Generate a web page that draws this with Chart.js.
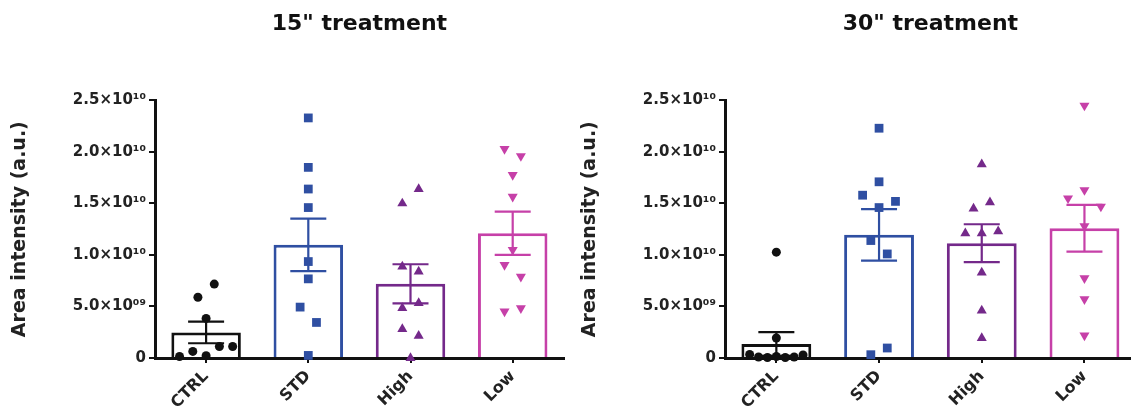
<!DOCTYPE html>
<html>
<head>
<meta charset="utf-8">
<script src="https://cdn.jsdelivr.net/npm/chart.js@4.4.1/dist/chart.umd.min.js"></script>
<style>
html, body { margin: 0; padding: 0; background: #fff; overflow: hidden; }
#wrap { position: relative; width: 1131px; height: 416px; overflow: hidden; background: #fff; }
.box { position: absolute; top: 0; height: 416px; }
#left { left: 0; width: 570px; }
#right { left: 570px; width: 572px; }
</style>
</head>
<body>
<div id="wrap">
    <div class="box" id="left"><canvas id="chart15"></canvas></div>
    <div class="box" id="right"><canvas id="chart30"></canvas></div>
</div>
<script>
// values are in units of 1e9 (a.u.)
const UNIT = 1e9;
const groups = ['CTRL', 'STD', 'High', 'Low'];

const mean15 = [2.48, 10.98, 7.2, 12.1];
const sem15 = [1.05, 2.55, 1.9, 2.1];
const ctrl15 = [0.15, 0.64, 0.22, 1.12, 1.12, 3.84, 5.9, 7.17];
const std15 = [0.25, 4.94, 3.45, 7.68, 9.36, 14.6, 16.4, 18.5, 23.3];
const high15 = [0, 2.81, 2.16, 4.84, 5.33, 8.88, 8.39, 15.0, 16.4];
const low15 = [4.52, 4.84, 9.04, 7.9, 10.5, 15.66, 17.76, 20.3, 19.6];

const mean30 = [1.36, 11.95, 11.14, 12.6];
const sem30 = [1.16, 2.5, 1.84, 2.27];
const ctrl30 = [0.35, 0.1, 0.05, 0.15, 0.05, 0.1, 0.3, 1.94, 10.27];
const std30 = [0.32, 0.97, 11.4, 10.1, 15.8, 14.6, 15.2, 17.1, 22.3];
const high30 = [1.94, 4.6, 8.3, 12.1, 12.1, 12.3, 14.5, 15.1, 18.8];
const low30 = [2.2, 5.7, 7.75, 12.8, 15.5, 16.3, 14.7, 24.5];

const COLORS = ['#111111', '#2F4FA2', '#74298A', '#C640A8'];
const POINT_STYLES = ['circle', 'rect', 'triangle', 'triangle'];
const POINT_ROTATION = [0, 0, 0, 180];
const POINT_RADIUS = [4.5, 6.2, 5.8, 5.8];
const FONT = 'DejaVu Sans';

// simple GraphPad-like spreading: close values share a row and are spread sideways
function spread(values) {
    const idx = values.map((v, i) => i).sort((a, b) => values[a] - values[b]);
    const offsets = new Array(values.length).fill(0);
    let k = 0;
    while (k < idx.length) {
        const start = values[idx[k]];
        let bin = [];
        while (k < idx.length && values[idx[k]] - start < 1.65) bin.push(idx[k++]);
        bin.sort((a, b) => a - b);
        const n = bin.length;
        const step = n <= 3 ? 0.16 : Math.min(0.16, 0.52 / (n - 1));
        bin.forEach((p, j) => offsets[p] = (j - (n - 1) / 2) * step);
    }
    return offsets;
}

function tickLabel(value) {
    if (value === 0) return '0';
    if (value >= 1e10) return (value / 1e10).toFixed(1) + '×10¹⁰';
    return (value / 1e9).toFixed(1) + '×10⁰⁹';
}

function makeChart(id, title, means, sems, points) {
    const datasets = [{
        type: 'bar',
        data: means.map(m => m * UNIT),
        backgroundColor: '#ffffff',
        borderColor: COLORS,
        borderWidth: 3,
        grouped: false,
        barPercentage: 0.68,
        categoryPercentage: 1,
        order: 2
    }];
    points.forEach((vals, i) => {
        const off = spread(vals);
        datasets.push({
            type: 'scatter',
            xAxisID: 'x2',
            data: vals.map((v, k) => ({x: i + off[k], y: v * UNIT})),
            pointStyle: POINT_STYLES[i],
            rotation: POINT_ROTATION[i],
            radius: POINT_RADIUS[i],
            backgroundColor: COLORS[i],
            borderColor: COLORS[i],
            borderWidth: 0,
            clip: false,
            order: 1
        });
    });

    const errorBars = {
        id: 'errorBars',
        afterDatasetsDraw(chart) {
            const {ctx, scales: {x, y}} = chart;
            ctx.save();
            ctx.lineWidth = 2.2;
            means.forEach((m, i) => {
                const px = x.getPixelForValue(i);
                const top = y.getPixelForValue((m + sems[i]) * UNIT);
                const bot = y.getPixelForValue(Math.max(0, m - sems[i]) * UNIT);
                ctx.strokeStyle = COLORS[i];
                ctx.beginPath();
                ctx.moveTo(px, top); ctx.lineTo(px, bot);
                ctx.moveTo(px - 18, top); ctx.lineTo(px + 18, top);
                ctx.moveTo(px - 18, bot); ctx.lineTo(px + 18, bot);
                ctx.stroke();
            });
            ctx.restore();
        }
    };

    return new Chart(document.getElementById(id), {
        type: 'bar',
        data: {labels: groups, datasets: datasets},
        plugins: [errorBars],
        options: {
            responsive: true,
            maintainAspectRatio: false,
            animation: false,
            layout: {padding: 0},
            scales: {
                x: {
                    type: 'category',
                    offset: true,
                    grid: {display: true, drawOnChartArea: false, drawTicks: true, offset: false,
                        tickLength: 5, color: '#111', lineWidth: 2},
                    border: {display: true, color: '#111', width: 3},
                    ticks: {color: '#222', font: {family: FONT, weight: 'bold', size: 16},
                        minRotation: 45, maxRotation: 45, padding: 4},
                    afterFit: s => { s.height = 58; }
                },
                x2: {type: 'linear', min: -0.5, max: 3.5, offset: false, display: false},
                y: {
                    min: 0,
                    max: 25e9,
                    ticks: {stepSize: 5e9, color: '#222', padding: 3,
                        font: {family: FONT, weight: 'bold', size: 15},
                        callback: v => tickLabel(v)},
                    grid: {display: true, drawOnChartArea: false, drawTicks: true,
                        tickLength: 6, color: '#111', lineWidth: 2},
                    border: {display: true, color: '#111', width: 3},
                    title: {display: true, text: 'Area intensity (a.u.)', color: '#222',
                        font: {family: FONT, weight: 'bold', size: 19}, padding: {top: 9, bottom: 0}},
                    afterFit: s => { s.width = 155; }
                }
            },
            plugins: {
                legend: {display: false},
                tooltip: {enabled: false},
                title: {
                    display: true,
                    text: title,
                    fullSize: false,
                    color: '#111',
                    font: {family: FONT, weight: 'bold', size: 22},
                    padding: {top: 11, bottom: 63}
                }
            }
        }
    });
}

makeChart('chart15', '15" treatment', mean15, sem15, [ctrl15, std15, high15, low15]);
makeChart('chart30', '30" treatment', mean30, sem30, [ctrl30, std30, high30, low30]);
</script>
</body>
</html>
